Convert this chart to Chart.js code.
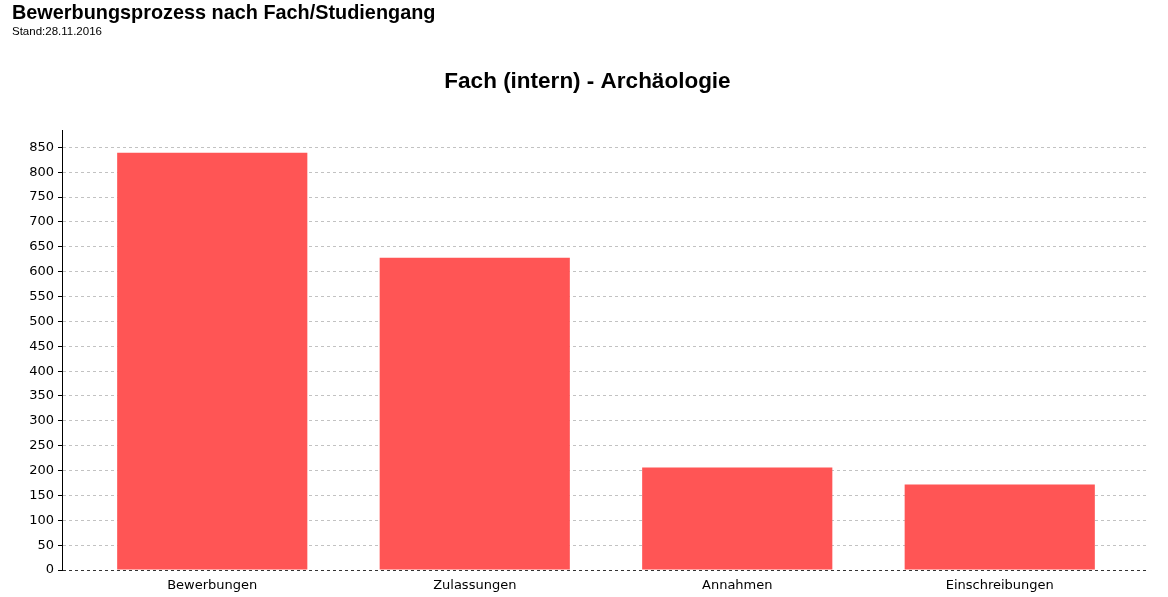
<!DOCTYPE html>
<html>
<head>
<meta charset="utf-8">
<script src="https://cdn.jsdelivr.net/npm/chart.js@4.4.0/dist/chart.umd.min.js"></script>
<style>
  html, body { margin: 0; padding: 0; background: #fff; }
  #wrap { position: relative; width: 1168px; height: 597px; }
  #hdr1 { position: absolute; left: 12px; top: 1px; font: bold 19.85px "Liberation Sans", Arial, sans-serif; color: #000; white-space: nowrap; }
  #hdr2 { position: absolute; left: 12px; top: 25px; font: 11.5px "Liberation Sans", Arial, sans-serif; color: #000; white-space: nowrap; }
  canvas { position: absolute; left: 0; top: 0; }
</style>
</head>
<body>
<div id="wrap">
  <canvas id="c" width="1168" height="597"></canvas>
  <div id="hdr1">Bewerbungsprozess nach Fach/Studiengang</div>
  <div id="hdr2">Stand:28.11.2016</div>
</div>
<script>
const categories = ["Bewerbungen", "Zulassungen", "Annahmen", "Einschreibungen"];
const values = [839, 628, 206, 172];
const chartTitle = "Fach (intern) - Archäologie";
const yMax = 885;
const yStep = 50;

new Chart(document.getElementById('c'), {
  type: 'bar',
  data: {
    datasets: [{
      data: values.map((v, i) => ({ x: i, y: v })),
      backgroundColor: '#FF5555',
      borderWidth: 0,
      categoryPercentage: 0.7245,
      barPercentage: 1.0
    }]
  },
  options: {
    responsive: false,
    animation: false,
    layout: { padding: { left: 26, right: 19, top: 0, bottom: 5 } },
    plugins: {
      legend: { display: false },
      tooltip: { enabled: false },
      title: {
        display: true,
        text: chartTitle,
        color: '#000',
        font: { family: '"Liberation Sans", Arial, sans-serif', size: 22.5, weight: 'bold' },
        padding: { top: 68, bottom: 35 }
      }
    },
    scales: {
      x: {
        type: 'linear',
        offset: false,
        bounds: 'data',
        min: -0.5724,
        max: 3.5686,
        afterBuildTicks: s => { s.ticks = categories.map((c, i) => ({ value: i })); },
        grid: { display: false, drawTicks: false, offset: false },
        border: { display: false },
        ticks: {
          color: '#000',
          font: { family: '"DejaVu Sans", sans-serif', size: 13 },
          padding: 8,
          maxRotation: 0,
          autoSkip: false,
          callback: v => categories[v]
        },
        afterFit: s => { s.height = 22; }
      },
      y: {
        min: 0,
        max: yMax,
        afterBuildTicks: s => { s.ticks = s.ticks.filter(t => t.value % yStep === 0); },
        grid: {
          color: ctx => (ctx.tick && ctx.tick.value === 0) ? '#333' : '#c2c2c2',
          lineWidth: 1,
          tickLength: 4,
          tickColor: '#000',
          tickBorderDash: [],
          drawTicks: true
        },
        border: { display: true, color: '#000', width: 1, dash: [3, 3] },
        ticks: {
          stepSize: yStep,
          color: '#000',
          font: { family: '"DejaVu Sans", sans-serif', size: 13 },
          padding: 4
        },
        afterFit: s => { s.width = 36; }
      }
    }
  }
});
</script>
</body>
</html>
